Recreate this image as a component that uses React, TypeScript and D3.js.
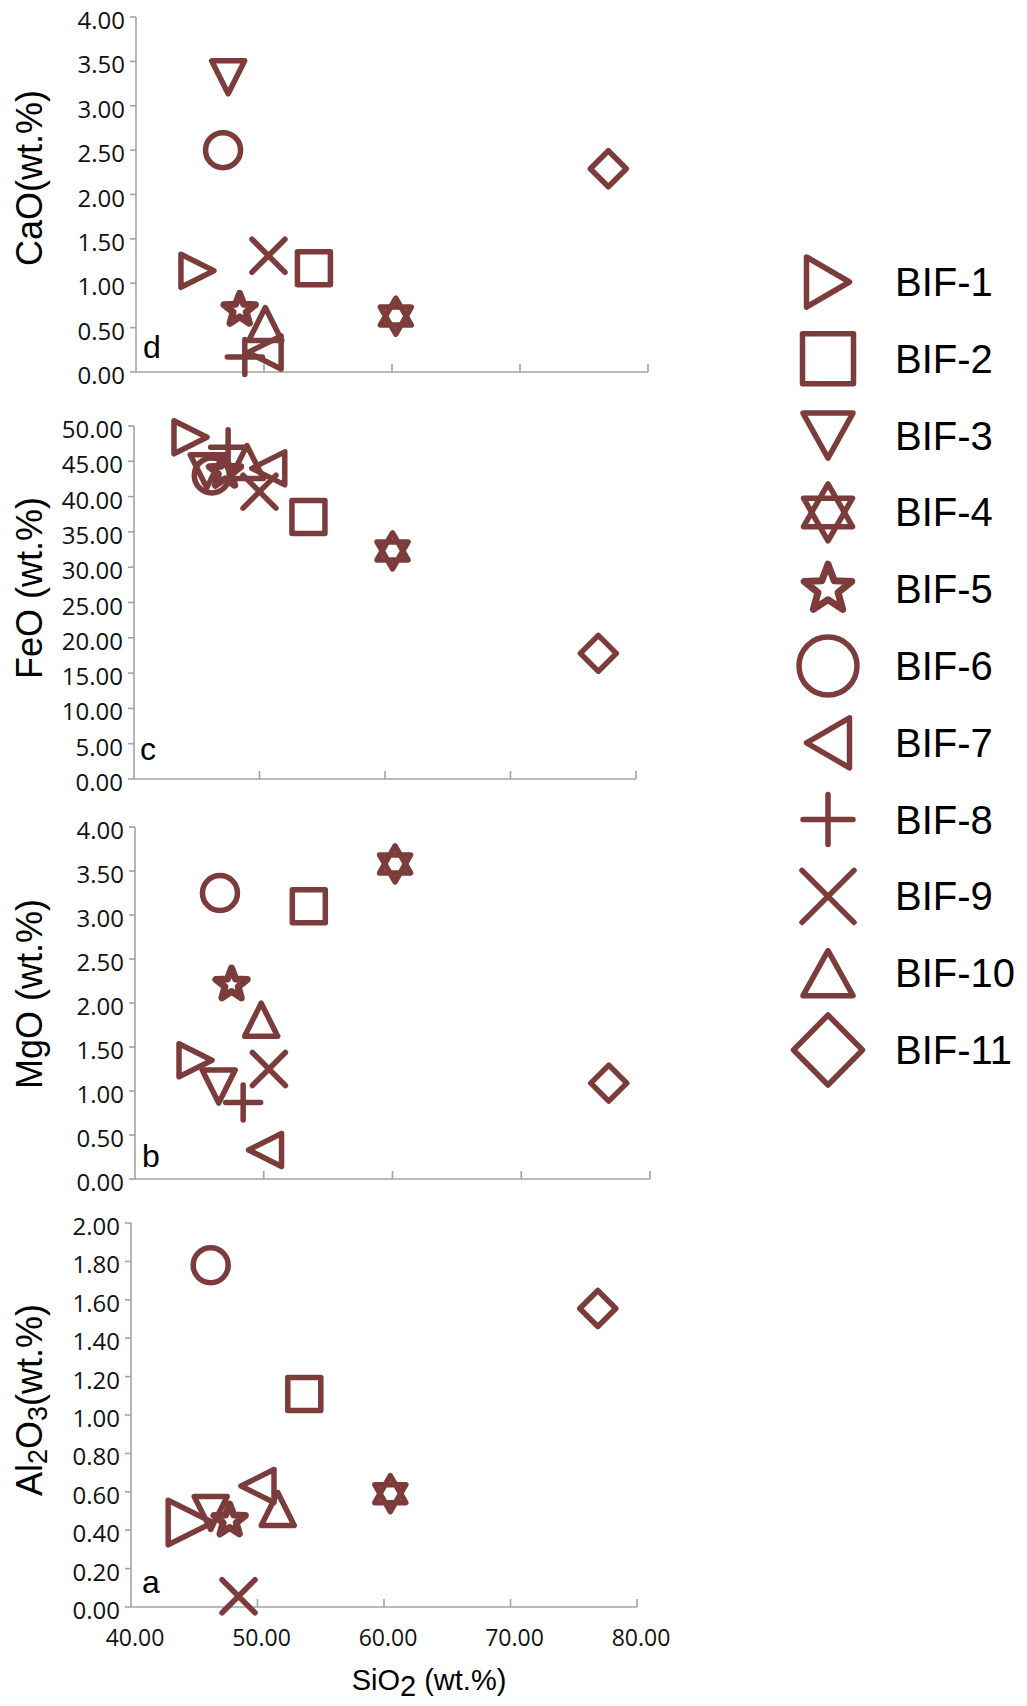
import React from 'react';
import * as d3 from 'd3';

// ---------- data ----------
const seriesNames = ['BIF-1', 'BIF-2', 'BIF-3', 'BIF-4', 'BIF-5', 'BIF-6', 'BIF-7', 'BIF-8', 'BIF-9', 'BIF-10', 'BIF-11'];
const seriesShapes = ['triRight', 'square', 'triDown', 'hexagram', 'star', 'circle', 'triLeft', 'plus', 'cross', 'triUp', 'diamond'];

const xTickValues = [40, 50, 60, 70, 80];

// panel d: CaO
const caoSiO2 = [44.8, 53.9, 47.2, 60.3, 48.1, 46.8, 50.05, 48.5, 50.35, 50.1, 76.9];
const caoValues = [1.14, 1.17, 3.32, 0.63, 0.70, 2.50, 0.22, 0.17, 1.31, 0.54, 2.29];
const caoTicks = [0, 0.5, 1, 1.5, 2, 2.5, 3, 3.5, 4];

// panel c: FeO
const feoSiO2 = [44.5, 53.9, 45.8, 60.6, 47.25, 46.2, 50.7, 47.5, 50.0, 49.0, 77.0];
const feoValues = [48.4, 37.1, 43.6, 32.3, 43.5, 43.0, 44.0, 47.0, 40.7, 44.9, 17.8];
const feoTicks = [0, 5, 10, 15, 20, 25, 30, 35, 40, 45, 50];

// panel b: MgO
const mgoSiO2 = [44.7, 53.5, 46.5, 60.2, 47.5, 46.6, 50.1, 48.4, 50.4, 49.8, 76.8];
const mgoValues = [1.35, 3.10, 1.05, 3.58, 2.21, 3.25, 0.33, 0.87, 1.25, 1.81, 1.09];
const mgoTicks = [0, 0.5, 1, 1.5, 2, 2.5, 3, 3.5, 4];

// panel a: Al2O3 (no BIF-8 point)
const al2o3SiO2 = [44.7, 53.7, 46.3, 60.5, 47.8, 46.3, 50.0, null, 48.5, 51.6, 76.9];
const al2o3Values = [0.44, 1.11, 0.49, 0.59, 0.45, 1.78, 0.63, null, 0.056, 0.51, 1.555];
const al2o3Ticks = [0, 0.2, 0.4, 0.6, 0.8, 1.0, 1.2, 1.4, 1.6, 1.8, 2.0];

// ---------- styles / layout ----------
const MARK = '#7c3c3c';
const AXIS = '#a3a3a3';
const TICK_FONT = '"Open Sans", "Liberation Sans", sans-serif';
const TEXT_FONT = '"Liberation Sans", Arial, sans-serif';

type Dim = { w: number; h: number };
const plotDims: Record<string, Dim> = {
  triRight: { w: 33, h: 33 },
  square: { w: 33, h: 33 },
  triDown: { w: 33, h: 33 },
  hexagram: { w: 31, h: 36 },
  star: { w: 33, h: 33 },
  circle: { w: 35, h: 35 },
  triLeft: { w: 33, h: 33 },
  plus: { w: 35, h: 35 },
  cross: { w: 33, h: 33 },
  triUp: { w: 33, h: 33 },
  diamond: { w: 36, h: 36 },
};
const legendDims: Record<string, Dim> = {
  triRight: { w: 43, h: 50 },
  square: { w: 51, h: 50 },
  triDown: { w: 50, h: 45 },
  hexagram: { w: 49, h: 57 },
  star: { w: 50, h: 50 },
  circle: { w: 58, h: 58 },
  triLeft: { w: 43, h: 50 },
  plus: { w: 50, h: 50 },
  cross: { w: 52, h: 52 },
  triUp: { w: 50, h: 45 },
  diamond: { w: 69, h: 70 },
};

function markerPath(shape: string, w: number, h: number): string {
  const hw = w / 2;
  const hh = h / 2;
  switch (shape) {
    case 'triRight':
      return `M${-hw},${-hh}L${hw},0L${-hw},${hh}Z`;
    case 'triLeft':
      return `M${hw},${-hh}L${-hw},0L${hw},${hh}Z`;
    case 'triUp':
      return `M0,${-hh}L${hw},${hh}L${-hw},${hh}Z`;
    case 'triDown':
      return `M${-hw},${-hh}L${hw},${-hh}L0,${hh}Z`;
    case 'square':
      return `M${-hw},${-hh}H${hw}V${hh}H${-hw}Z`;
    case 'diamond':
      return `M0,${-hh}L${hw},0L0,${hh}L${-hw},0Z`;
    case 'plus':
      return `M${-hw},0H${hw}M0,${-hh}V${hh}`;
    case 'cross':
      return `M${-hw},${-hh}L${hw},${hh}M${hw},${-hh}L${-hw},${hh}`;
    case 'circle':
      return `M${hw},0A${hw},${hh} 0 1,1 ${-hw},0A${hw},${hh} 0 1,1 ${hw},0Z`;
    case 'hexagram':
      return (
        `M0,${-hh}L${hw},${hh / 2}L${-hw},${hh / 2}Z` +
        `M0,${hh}L${hw},${-hh / 2}L${-hw},${-hh / 2}Z`
      );
    case 'star': {
      const R = hh;
      const r = R * 0.42;
      const pts: string[] = [];
      for (let i = 0; i < 10; i++) {
        const a = (-90 + i * 36) * (Math.PI / 180);
        const rad = i % 2 === 0 ? R : r;
        pts.push(`${(Math.cos(a) * rad).toFixed(2)},${(Math.sin(a) * rad).toFixed(2)}`);
      }
      return 'M' + pts.join('L') + 'Z';
    }
    default:
      return '';
  }
}

type Panel = {
  key: string;
  sio2: (number | null)[];
  vals: (number | null)[];
  ticks: number[];
  x0: number;
  x1: number;
  yTop: number;
  yBot: number;
  titleY: number;
  letterX: number;
  letterY: number;
  title: React.ReactNode;
  showX: boolean;
  enlarge?: number;
};

const panels: Panel[] = [
  {
    key: 'd', sio2: caoSiO2, vals: caoValues, ticks: caoTicks,
    x0: 136, x1: 648, yTop: 17, yBot: 372, titleY: 178, letterX: 143, letterY: 358,
    title: 'CaO(wt.%)', showX: false,
  },
  {
    key: 'c', sio2: feoSiO2, vals: feoValues, ticks: feoTicks,
    x0: 134, x1: 636, yTop: 426, yBot: 779, titleY: 588, letterX: 140, letterY: 760,
    title: 'FeO (wt.%)', showX: false,
  },
  {
    key: 'b', sio2: mgoSiO2, vals: mgoValues, ticks: mgoTicks,
    x0: 135, x1: 650, yTop: 827, yBot: 1179, titleY: 994, letterX: 142, letterY: 1167,
    title: 'MgO (wt.%)', showX: false,
  },
  {
    key: 'a', sio2: al2o3SiO2, vals: al2o3Values, ticks: al2o3Ticks,
    x0: 131, x1: 637, yTop: 1223, yBot: 1607, titleY: 1400, letterX: 142, letterY: 1593,
    title: null, showX: true, enlarge: 0,
  },
];

function PanelView({ p }: { p: Panel }) {
  const x = d3.scaleLinear().domain([40, 80]).range([p.x0, p.x1]);
  const yMax = p.ticks[p.ticks.length - 1];
  const y = d3.scaleLinear().domain([0, yMax]).range([p.yBot, p.yTop]);
  const fmt = d3.format('.2f');
  return (
    <g>
      {/* y axis */}
      <line x1={p.x0} x2={p.x0} y1={p.yTop} y2={p.yBot} stroke={AXIS} strokeWidth={1.6} />
      {p.ticks.map((t) => (
        <g key={'yt' + t}>
          <line x1={p.x0 - 6} x2={p.x0} y1={y(t)} y2={y(t)} stroke={AXIS} strokeWidth={1.6} />
          <text
            x={p.x0 - 11}
            y={y(t) + 2.5}
            textAnchor="end"
            dominantBaseline="central"
            fontFamily={TICK_FONT}
            fontSize={24}
            fill="#111"
          >
            {fmt(t)}
          </text>
        </g>
      ))}
      {/* x axis */}
      <line x1={p.x0} x2={p.x1} y1={p.yBot} y2={p.yBot} stroke={AXIS} strokeWidth={1.6} />
      {xTickValues.slice(1).map((t) => (
        <line key={'xt' + t} x1={x(t)} x2={x(t)} y1={p.yBot} y2={p.yBot - 8} stroke={AXIS} strokeWidth={1.6} />
      ))}
      {p.showX &&
        xTickValues.map((t) => (
          <text
            key={'xl' + t}
            x={x(t) + 4}
            y={p.yBot + 39}
            textAnchor="middle"
            fontFamily={TICK_FONT}
            fontSize={23}
            fill="#111"
          >
            {fmt(t)}
          </text>
        ))}
      {/* panel letter */}
      <text x={p.letterX} y={p.letterY} fontFamily={TEXT_FONT} fontSize={32} fill="#000">
        {p.key}
      </text>
      {/* y title */}
      <text
        transform={`translate(42,${p.titleY}) rotate(-90)`}
        textAnchor="middle"
        fontFamily={TEXT_FONT}
        fontSize={36}
        fill="#000"
      >
        {p.title !== null ? (
          p.title
        ) : (
          <>
            Al<tspan fontSize={27} dy={5}>2</tspan>
            <tspan dy={-5}>O</tspan>
            <tspan fontSize={27} dy={5}>3</tspan>
            <tspan dy={-5}>(wt.%)</tspan>
          </>
        )}
      </text>
      {/* markers */}
      {seriesNames.map((name, i) => {
        const sx = p.sio2[i];
        const v = p.vals[i];
        if (sx === null || v === null) return null;
        const shape = seriesShapes[i];
        const d = plotDims[shape];
        const k = p.enlarge === i ? 1.35 : 1;
        return (
          <path
            key={name}
            d={markerPath(shape, d.w * k, d.h * k)}
            transform={`translate(${x(sx)},${y(v)})`}
            fill="none"
            stroke={MARK}
            strokeWidth={shape === 'star' ? 7 : 5.5}
            strokeLinejoin="round"
            strokeLinecap="round"
          />
        );
      })}
    </g>
  );
}

export default function App() {
  const legendY = d3.scaleLinear().domain([0, 10]).range([282, 1050]);
  return (
    <svg
      width={1027}
      height={1706}
      viewBox="0 0 1027 1706"
      style={{ position: 'absolute', left: 0, top: 0, background: '#fff' }}
    >
      <rect x={0} y={0} width={1027} height={1706} fill="#fff" />
      {panels.map((p) => (
        <PanelView key={p.key} p={p} />
      ))}
      {/* x title */}
      <text x={429} y={1690} textAnchor="middle" fontFamily={TEXT_FONT} fontSize={29} fill="#000">
        SiO<tspan dy={6}>2</tspan>
        <tspan dy={-6}> (wt.%)</tspan>
      </text>
      {/* legend */}
      {seriesNames.map((name, i) => {
        const shape = seriesShapes[i];
        const d = legendDims[shape];
        const cy = legendY(i);
        return (
          <g key={'lg' + name}>
            <path
              d={markerPath(shape, d.w, d.h)}
              transform={`translate(828,${cy})`}
              fill="none"
              stroke={MARK}
              strokeWidth={shape === 'star' ? 7 : 5.5}
              strokeLinejoin="round"
              strokeLinecap="round"
            />
            <text
              x={895}
              y={cy}
              dominantBaseline="central"
              fontFamily={TEXT_FONT}
              fontSize={40}
              fill="#000"
            >
              {name}
            </text>
          </g>
        );
      })}
    </svg>
  );
}
